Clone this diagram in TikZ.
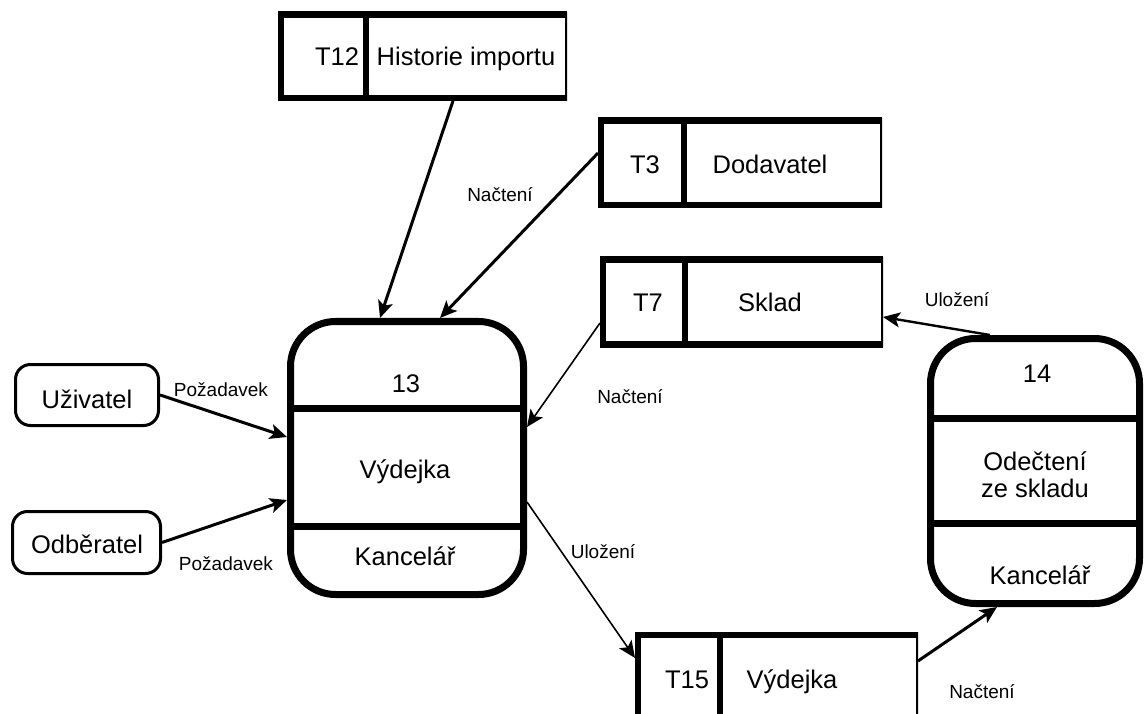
\documentclass[tikz,border=0pt]{standalone}
\usepackage{fontspec}
\setmainfont{Liberation Sans}
\usetikzlibrary{arrows.meta}
\begin{document}
\begin{tikzpicture}[x=1pt,y=-1pt,
  % text inside boxes and on flows
  lbl/.style={font=\fontsize{25.5}{28}\selectfont, inner sep=0pt, anchor=base},
  flowlbl/.style={font=\fontsize{19}{21}\selectfont, inner sep=0pt, anchor=base},
  % data store: thick top, left, bottom and divider, thin right side
  storebox/.style={rectangle, fill=white, inner sep=0pt, outer sep=0pt,
    path picture={
      \draw[line width=12pt] (path picture bounding box.north east) -- (path picture bounding box.north west)
        -- (path picture bounding box.south west) -- (path picture bounding box.south east);
      \draw[line width=4pt] (path picture bounding box.north east) -- (path picture bounding box.south east);
      \draw[line width=6pt] ([xshift=#1]path picture bounding box.north west) -- ([xshift=#1]path picture bounding box.south west);
    }},
  procbox/.style={rectangle, draw, fill=white, line width=7pt, rounded corners=45pt, inner sep=0pt},
  entbox/.style={rectangle, draw, fill=white, line width=3pt, rounded corners=15pt, inner sep=0pt},
  divline/.style={line width=7pt},
  tip/.style={-{Stealth[length=17pt,width=15pt,inset=4pt]}},
  heavyflow/.style={tip, line width=3pt},
  lightflow/.style={tip, line width=1.6pt},
]
\useasboundingbox (0,0) rectangle (1144,714);
\fill[white] (0,0) rectangle (1144,714);
\clip (0,0) rectangle (1144,714);

% data stores
\node[storebox=88, minimum width=289, minimum height=89] (t12) at (422.5,56.5) {};
\node[lbl] (t12id) at (337,66) {T12};
\node[lbl] (t12name) at (466,66) {Historie importu};

\node[storebox=86, minimum width=284, minimum height=90] (t3) at (740,163) {};
\node[lbl] (t3id) at (645,174) {T3};
\node[lbl] (t3name) at (770,174) {Dodavatel};

\node[storebox=85, minimum width=283, minimum height=90] (t7) at (741.5,302) {};
\node[lbl] (t7id) at (648,312) {T7};
\node[lbl] (t7name) at (770,312) {Sklad};

\node[storebox=85, minimum width=283, minimum height=92] (t15) at (776.5,678) {};
\node[lbl] (t15id) at (687,688) {T15};
\node[lbl] (t15name) at (792,688) {Výdejka};

% processes
\node[procbox, minimum width=233, minimum height=273] (p13) at (407,458) {};
\draw[divline] ([yshift=-90.5]p13.north west) -- ([yshift=-90.5]p13.north east);
\draw[divline] ([yshift=-208]p13.north west) -- ([yshift=-208]p13.north east);
\node[lbl] (p13id) at (406,392) {13};
\node[lbl] (p13name) at (405,478) {Výdejka};
\node[lbl] (p13place) at (405,565) {Kancelář};

\node[procbox, minimum width=209, minimum height=265] (p14) at (1035,471) {};
\draw[divline] ([yshift=-83.5]p14.north west) -- ([yshift=-83.5]p14.north east);
\draw[divline] ([yshift=-188.5]p14.north west) -- ([yshift=-188.5]p14.north east);
\node[lbl] (p14id) at (1037,382) {14};
\node[lbl] (p14name) at (1035,470) {Odečtení};
\node[lbl] (p14name2) at (1035,497) {ze skladu};
\node[lbl] (p14place) at (1040,584) {Kancelář};

% external entities
\node[entbox, minimum width=143, minimum height=61] (uziv) at (87,395) {};
\node[lbl] (uzivtxt) at (87,408) {Uživatel};
\node[entbox, minimum width=148, minimum height=62] (odb) at (86.5,542.5) {};
\node[lbl] (odbtxt) at (87,553) {Odběratel};

% data flows
\draw[heavyflow] (uziv.east) -- ([yshift=21]p13.west);
\draw[heavyflow] (odb.east) -- ([yshift=-42]p13.west);
\draw[heavyflow] ([xshift=30.5]t12.south) -- ([xshift=-27]p13.north);
\draw[heavyflow] ([yshift=10]t3.west) -- ([xshift=33]p13.north);
\draw[lightflow] ([yshift=-21]t7.west) -- ([yshift=31]p13.east);
\draw[lightflow] ([yshift=-44]p13.east) -- ([yshift=20]t15.west);
\draw[heavyflow, line width=2.4pt] ([xshift=-45]p14.north) -- ([yshift=-15]t7.east);
\draw[heavyflow] ([yshift=17]t15.east) -- ([xshift=-38]p14.south);

% flow labels
\node[flowlbl] (f1) at (221,396) {Požadavek};
\node[flowlbl] (f2) at (226,570) {Požadavek};
\node[flowlbl] (f3) at (500,202) {Načtení};
\node[flowlbl] (f4) at (630,403) {Načtení};
\node[flowlbl] (f5) at (957,307) {Uložení};
\node[flowlbl] (f6) at (603,558) {Uložení};
\node[flowlbl] (f7) at (982,698) {Načtení};
\end{tikzpicture}
\end{document}
